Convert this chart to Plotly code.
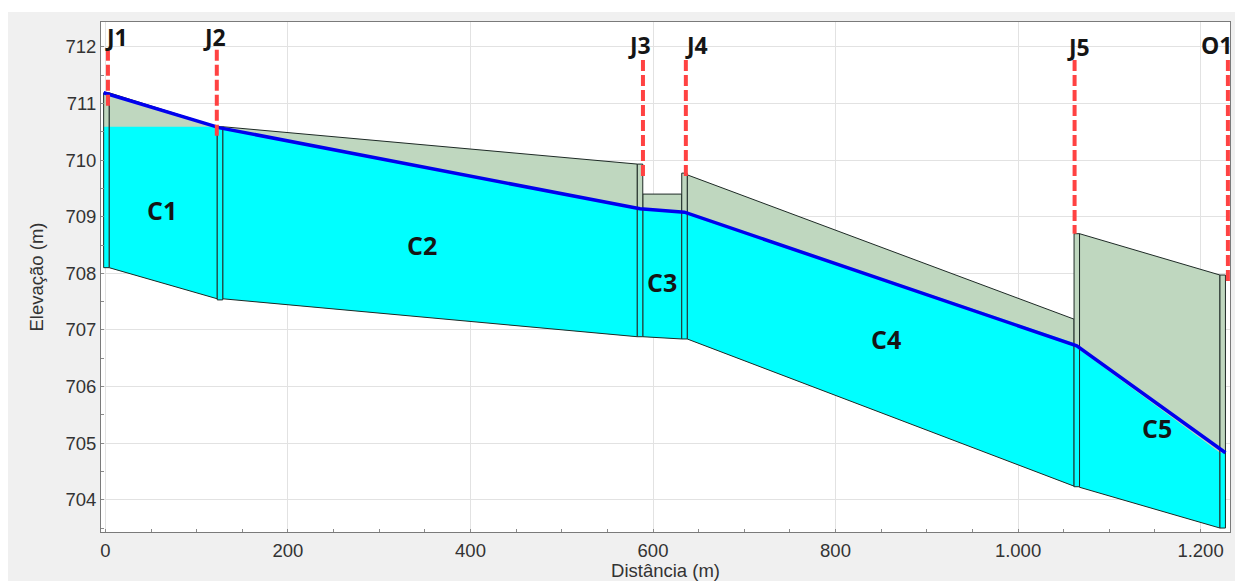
import plotly.graph_objects as go

# ---------------- data ----------------
node_names = ["J1", "J2", "J3", "J4", "J5", "O1"]
node_x = [1.0, 125.5, 585.8, 634.5, 1064.4, 1224.3]          # distance (m)
node_invert = [708.10, 707.53, 706.88, 706.84, 704.23, 703.50]
node_rim = [711.19, 710.59, 709.93, 709.77, 708.70, 707.97]
node_water = [710.59, 710.57, 709.14, 709.08, 706.72, 704.83]
hgl = [711.19, 710.57, 709.14, 709.08, 706.72, 704.83]

conduit_names = ["C1", "C2", "C3", "C4", "C5"]
conduit_invert_up = [708.10, 707.55, 706.88, 706.84, 704.22]
conduit_invert_dn = [707.55, 706.88, 706.84, 704.24, 703.50]
conduit_crown_up = [711.19, 710.59, 709.40, 709.74, 708.70]
conduit_crown_dn = [710.59, 709.93, 709.40, 707.19, 707.97]
conduit_water_up = [710.59, 710.57, 709.12, 709.07, 706.65]
conduit_water_dn = [710.59, 709.14, 709.09, 706.77, 704.83]

# node marker (dashed) lines
marker_x = [2.7, 122.0, 589.0, 636.0, 1062.0, 1230.0]
marker_top = [711.95, 711.95, 711.77, 711.77, 711.77, 711.77]
marker_bottom = [710.92, 710.41, 709.69, 709.65, 708.70, 707.85]

# label placements
node_label_x = [12.6, 119.0, 585.7, 648.0, 1066.0, 1217.0]
node_label_y = [712.18, 712.18, 712.04, 712.04, 712.00, 712.04]
conduit_label_x = [62.0, 347.0, 610.0, 855.0, 1152.0]
conduit_label_y = [709.12, 708.50, 707.85, 706.84, 705.27]

x_tickvals = [0, 200, 400, 600, 800, 1000, 1200]
x_ticktext = ["0", "200", "400", "600", "800", "1.000", "1.200"]
y_tickvals = [704, 705, 706, 707, 708, 709, 710, 711, 712]

# ---------------- style ----------------
NODE_W = 6.0
GREEN = "#bfd7bf"
CYAN = "#00ffff"
EDGE = "#1e2a26"
BLUE = "#0000ee"
RED = "#ff4242"

fig = go.Figure()

def poly(xs, ys, fill):
    fig.add_trace(go.Scatter(
        x=xs + [xs[0]], y=ys + [ys[0]], mode="lines", fill="toself",
        fillcolor=fill, line=dict(color="rgba(0,0,0,0)", width=0),
        hoverinfo="skip", showlegend=False))

def outline(xs, ys, color=EDGE, lw=1.0):
    fig.add_trace(go.Scatter(
        x=xs + [xs[0]], y=ys + [ys[0]], mode="lines",
        line=dict(color=color, width=lw), hoverinfo="skip", showlegend=False))

# conduits
for i in range(len(conduit_names)):
    xa = node_x[i] + NODE_W / 2
    xb = node_x[i + 1] - NODE_W / 2
    px = [xa, xb, xb, xa]
    py = [conduit_invert_up[i], conduit_invert_dn[i], conduit_crown_dn[i], conduit_crown_up[i]]
    poly(px, py, GREEN)
    wu = min(conduit_water_up[i], conduit_crown_up[i])
    wd = min(conduit_water_dn[i], conduit_crown_dn[i])
    poly(px, [conduit_invert_up[i], conduit_invert_dn[i], wd, wu], CYAN)
    outline(px, py)

# nodes
for i in range(len(node_names)):
    xa = node_x[i] - NODE_W / 2
    xb = node_x[i] + NODE_W / 2
    px = [xa, xb, xb, xa]
    poly(px, [node_invert[i], node_invert[i], node_rim[i], node_rim[i]], GREEN)
    w = min(node_water[i], node_rim[i])
    poly(px, [node_invert[i], node_invert[i], w, w], CYAN)
    outline(px, [node_invert[i], node_invert[i], node_rim[i], node_rim[i]])

# hydraulic grade line
hx = list(node_x)
hx[0] = node_x[0] - NODE_W / 2
hx[-1] = node_x[-1] + NODE_W / 2
fig.add_trace(go.Scatter(x=hx, y=hgl, mode="lines",
                         line=dict(color=BLUE, width=3.5),
                         hoverinfo="skip", showlegend=False))

# dashed node markers
for i in range(len(node_names)):
    fig.add_trace(go.Scatter(x=[marker_x[i], marker_x[i]],
                             y=[marker_top[i], marker_bottom[i]], mode="lines",
                             line=dict(color=RED, width=4, dash="11px,4px"),
                             hoverinfo="skip", showlegend=False))

annotations = []
for i, name in enumerate(node_names):
    annotations.append(dict(x=node_label_x[i], y=node_label_y[i], xref="x", yref="y",
                            text=name, showarrow=False,
                            font=dict(family="Open Sans", size=23, color="#151515", weight="bold")))
for i, name in enumerate(conduit_names):
    annotations.append(dict(x=conduit_label_x[i], y=conduit_label_y[i], xref="x", yref="y",
                            text=name, showarrow=False,
                            font=dict(family="Open Sans", size=25, color="#151515", weight="bold")))

# The page body has an 8px white margin; figure is sized to fill the rest.
FIG_W, FIG_H = 1235, 573
M_L, M_R, M_T, M_B = 93, 13, 14, 49
PW, PH = FIG_W - M_L - M_R, FIG_H - M_T - M_B
# thin white strip at the very top (continuation of the white window border)
shapes = [
    dict(type="rect", xref="paper", yref="paper", layer="below",
         x0=-M_L / PW, x1=(FIG_W - M_L) / PW, y0=(PH + M_T - 4) / PH, y1=(PH + M_T) / PH,
         fillcolor="white", line=dict(width=0)),
]

tick_font = dict(family="Liberation Sans", size=18.5, color="#333333")

fig.update_layout(
    width=FIG_W, height=FIG_H,
    margin=dict(l=M_L, r=M_R, t=M_T, b=M_B, autoexpand=False),
    paper_bgcolor="#f0f0f0", plot_bgcolor="white",
    annotations=annotations, shapes=shapes,
    xaxis=dict(range=[-4.9, 1232.3], tickvals=x_tickvals, ticktext=x_ticktext,
               automargin=False,
               showgrid=True, gridcolor="#e2e2e2", gridwidth=1, zeroline=False,
               showline=True, linecolor="#7a7a7a", linewidth=1, mirror=True,
               ticks="", tickfont=tick_font, ticklabelstandoff=2,
               minor=dict(ticks="inside", ticklen=3, dtick=50, tick0=0, tickcolor="#8a8a8a", showgrid=False),
               title=dict(text="Distância (m)", font=tick_font, standoff=8)),
    yaxis=dict(range=[703.43, 712.44], tickvals=y_tickvals,
               automargin=False,
               showgrid=True, gridcolor="#e2e2e2", gridwidth=1, zeroline=False,
               showline=True, linecolor="#7a7a7a", linewidth=1, mirror=True,
               ticks="", tickfont=tick_font, ticklabelstandoff=0,
               minor=dict(ticks="inside", ticklen=3, dtick=0.5, tick0=0, tickcolor="#8a8a8a", showgrid=False),
               title=dict(text="Elevação (m)", font=tick_font, standoff=16)),
)

fig.write_html("out.html")
